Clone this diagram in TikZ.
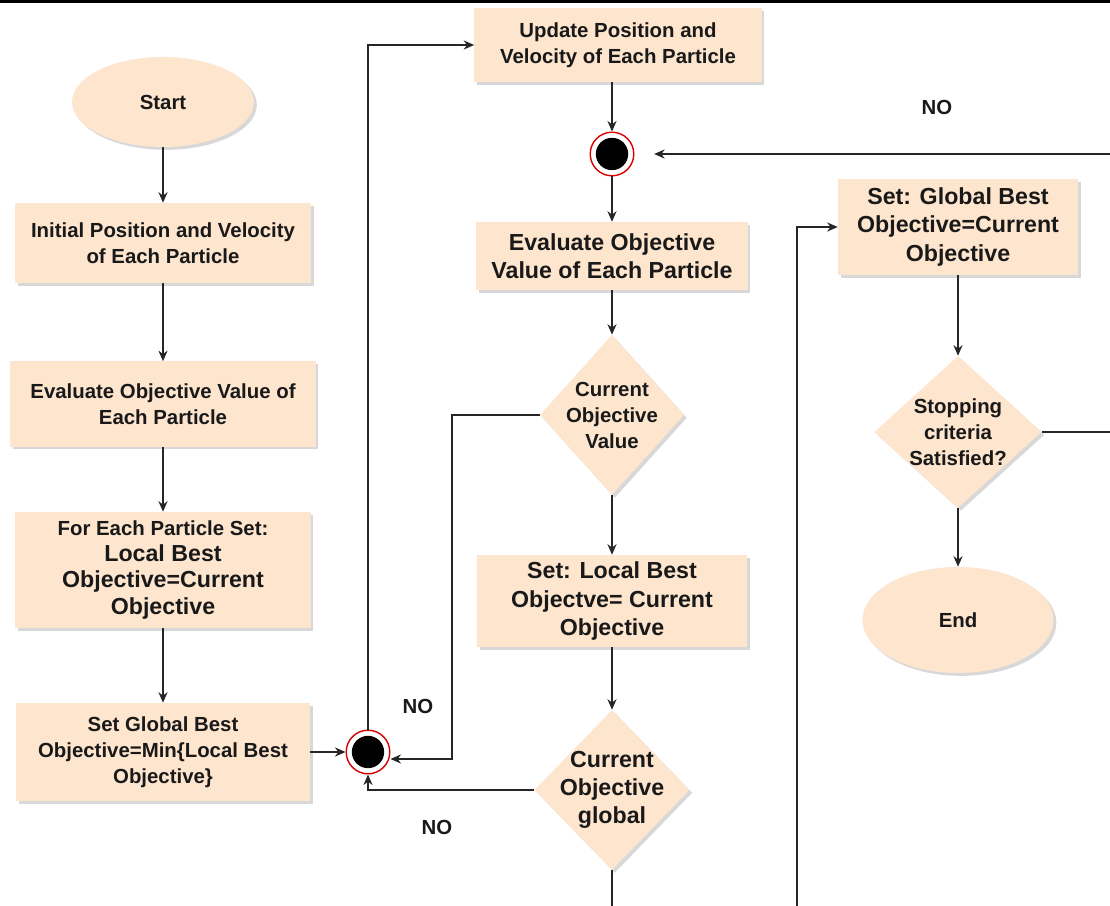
\documentclass[tikz,border=0pt]{standalone}
\usepackage{fontspec}
\setmainfont{Liberation Sans}
\usetikzlibrary{positioning, arrows.meta, shapes.geometric, shadows}

\definecolor{peach}{HTML}{FDE5CE}
\newcommand{\smallfs}{\fontsize{14.5}{18.5}\selectfont}
\newcommand{\largefs}{\fontsize{16.5}{20}\selectfont}

\begin{document}
\begin{tikzpicture}[
    x=0.025cm, y=-0.025cm,
    arrow/.style={-{Stealth[length=7.5pt, width=6.5pt]}, line width=0.9pt, black!85},
    boxshadow/.style={drop shadow={opacity=0.3, shadow xshift=2pt, shadow yshift=-2pt}},
    box/.style={rectangle, fill=peach, boxshadow, align=center, text=black!90, font=\bfseries\smallfs, inner sep=2pt},
    bigbox/.style={box, font=\bfseries\largefs},
    terminal/.style={ellipse, fill=peach, boxshadow, text=black!90, font=\bfseries\smallfs},
    decision/.style={diamond, fill=peach, boxshadow, inner sep=0pt},
    dtext/.style={align=center, text=black!90, font=\bfseries\smallfs},
    junction/.style={circle, draw=red!85!black, line width=1pt, fill=white, minimum size=31pt, inner sep=0pt,
        path picture={\fill[black] (path picture bounding box.center) circle (11.5pt);}},
    nolabel/.style={text=black!90, font=\bfseries\smallfs}
]
    \useasboundingbox (0,0) rectangle (1110,906);
    \clip (0,0) rectangle (1110,906);
    \fill[white] (0,0) rectangle (1110,906);
    \fill[black] (0,0) rectangle (1110,3);

    % === Left column ===
    \node[terminal, minimum width=4.55cm, minimum height=2.25cm] (start) at (163,102) {Start};
    \node[box, minimum width=7.4cm, minimum height=2cm] (init) at (163,243) {Initial Position and Velocity\\of Each Particle};
    \node[box, minimum width=7.625cm, minimum height=2.125cm] (evalA) at (163,404) {Evaluate Objective Value of\\Each Particle};
    \node[box, minimum width=7.375cm, minimum height=2.9cm] (lbest) at (163,570)
        {For Each Particle Set:\\\largefs Local Best\\\largefs Objective=Current\\\largefs Objective};
    \node[box, minimum width=7.35cm, minimum height=2.45cm] (gbest) at (163,752) {Set Global Best\\Objective=Min\{Local Best\\Objective\}};
    \node[junction] (ja) at (368,752) {};

    % === Middle column ===
    \node[box, minimum width=7.175cm, minimum height=1.85cm] (update) at (618,45) {Update Position and\\Velocity of Each Particle};
    \node[junction] (jb) at (612,154) {};
    \node[bigbox, minimum width=6.775cm, minimum height=1.7cm] (evalB) at (612,256) {Evaluate Objective\\Value of Each Particle};
    \node[decision, minimum width=3.6cm, minimum height=4cm,
          label={[dtext]center:Current\\Objective\\Value}] (curval) at (612,415) {};
    \node[bigbox, minimum width=6.75cm, minimum height=2.3cm] (slocal) at (612,601) {Set: Local Best\\Objectve= Current\\Objective};
    \node[decision, minimum width=3.875cm, minimum height=4cm,
          label={[dtext, font=\bfseries\largefs]center:Current\\Objective\\global}] (curglob) at (612,790) {};

    % === Right column ===
    \node[bigbox, minimum width=6cm, minimum height=2.4cm] (sglobal) at (958,227) {Set: Global Best\\Objective=Current\\Objective};
    \node[decision, minimum width=4.175cm, minimum height=3.8cm,
          label={[dtext]center:Stopping\\criteria\\Satisfied?}] (stop) at (958,432) {};
    \node[terminal, minimum width=4.775cm, minimum height=2.65cm] (finish) at (958,620) {End};

    % NO labels
    \node[nolabel] (noA) at (937,107) {NO};
    \node[nolabel] (noB) at (418,706) {NO};
    \node[nolabel] (noC) at (437,827) {NO};

    % bend points
    \coordinate (bendA) at (452,759);
    \coordinate (loopA) at (1135,432);
    \coordinate (loopB) at (797,935);

    % === Connectors ===
    \draw[arrow] (start) -- (init);
    \draw[arrow] (init) -- (evalA);
    \draw[arrow] (evalA) -- (lbest);
    \draw[arrow] (lbest) -- (gbest);
    \draw[arrow] (gbest) -- (ja);
    \draw[arrow] (ja) |- (update);
    \draw[arrow] (update.south -| jb) -- (jb);
    \draw[arrow] (jb) -- (evalB);
    \draw[arrow] (evalB) -- (curval);
    \draw[arrow] (curval.west) -| (bendA) -- (ja.east |- bendA);
    \draw[arrow] (curval) -- (slocal);
    \draw[arrow] (slocal) -- (curglob);
    \draw[arrow] (curglob) -| (ja);
    \draw[arrow] (curglob) |- (loopB) |- (sglobal);
    \draw[arrow] (sglobal) -- (stop);
    \draw[arrow] (stop) -- (finish);
    \draw[arrow, shorten >=14pt] (stop) -- (loopA) |- (jb);

\end{tikzpicture}
\end{document}
